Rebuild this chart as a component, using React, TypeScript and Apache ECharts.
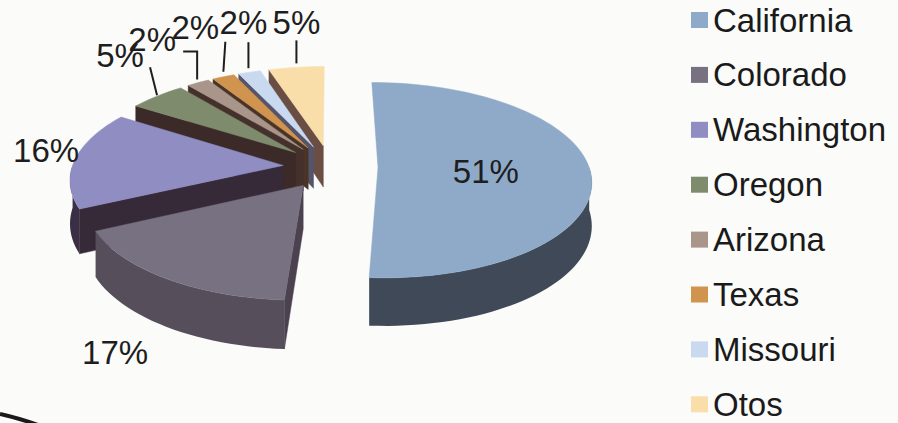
import React, { useEffect, useRef } from 'react';
import * as echarts from 'echarts';

// ---- data ----
const STATES = ['California', 'Colorado', 'Washington', 'Oregon', 'Arizona', 'Texas', 'Missouri', 'Otos'];
const SHARES = [51, 17, 16, 5, 2, 2, 2, 5];

// ---- styles ----
const TOP_COLORS = ['#8eaac8', '#787181', '#8f8dc2', '#7f8b6d', '#a99589', '#d0944e', '#c9daf0', '#f9dea9'];
const WALL_COLORS = ['#3f4957', '#574e5c', '#3a2f44', '#3d2b28', '#48342f', '#4c3628', '#5b5a70', '#6b4f45'];
const FACE_COLORS = ['#353d4a', '#4b414f', '#372a38', '#3b2a27', '#45312c', '#4a3428', '#55546a', '#6a4e44'];

// label layout (relative to the slice's outer mid point / inner point)
const LABEL_LAYOUT: { r: number; dx: number; dy: number; leader: number[][] | null }[] = [
  { r: 0.5, dx: 2, dy: 2, leader: null },
  { r: 1, dx: -51, dy: 74, leader: null },
  { r: 1, dx: -29, dy: -9, leader: null },
  { r: 1, dx: -37, dy: -41, leader: [[0, -1], [-7, -29]] },
  { r: 1, dx: -46, dy: -43, leader: [[-1, -3], [-1, -31], [-15, -31]] },
  { r: 1, dx: -28, dy: -49, leader: [[0, -5], [2, -35]] },
  { r: 1, dx: -6, dy: -50, leader: [[-1, -4], [-1, -30]] },
  { r: 1, dx: 0, dy: -45, leader: [[0, -4], [0, -27]] },
];

const GEO = { cx: 330.5, cy: 166.8, rx: 211, ry: 97.5, p: 0.13, explode: 0.225, depth: 42.5 };
const FONT = '"Liberation Sans", Arial, sans-serif';

const TOTAL = SHARES.reduce((a, b) => a + b, 0);
const STARTS = SHARES.map((_, i) => SHARES.slice(0, i).reduce((a, b) => a + b, 0));

function renderSlice(params: any, api: any) {
  const i = params.seriesIndex;
  const share = api.value(0);
  const start = api.value(1);
  const a0 = (start / TOTAL) * Math.PI * 2;
  const a1 = ((start + share) / TOTAL) * Math.PI * 2;
  const m = (a0 + a1) / 2;
  const ex = GEO.explode * Math.sin(m);
  const ev = -GEO.explode * Math.cos(m);
  const pt = (r: number, th: number, h: number) => {
    const u = ex + r * Math.sin(th);
    const v = ev - r * Math.cos(th);
    const s = 1 + GEO.p * v;
    return [GEO.cx + GEO.rx * u * s, GEO.cy + GEO.ry * v * s + h * GEO.depth * s];
  };
  const arc = (t0: number, t1: number, h: number) => {
    const n = Math.max(4, Math.ceil(((t1 - t0) / (Math.PI * 2)) * 160));
    const out: number[][] = [];
    for (let k = 0; k <= n; k++) out.push(pt(1, t0 + ((t1 - t0) * k) / n, h));
    return out;
  };
  const base = Math.round((ev + 1) * 100) * 10;
  const children: any[] = [];

  // outer wall
  const w0 = Math.max(a0, Math.PI / 2);
  const w1 = Math.min(a1, (Math.PI * 3) / 2);
  if (w1 > w0) {
    const top = arc(w0, w1, 0);
    const bot = arc(w0, w1, 1).reverse();
    children.push({
      type: 'polygon', z2: base + 1,
      shape: { points: top.concat(bot) },
      style: { fill: WALL_COLORS[i] },
    });
  }
  // radial faces
  const face = (a: number) => ({
    type: 'polygon', z2: base + 2,
    shape: { points: [pt(0, 0, 0), pt(1, a, 0), pt(1, a, 1), pt(0, 0, 1)] },
    style: { fill: FACE_COLORS[i], stroke: FACE_COLORS[i], lineWidth: 0.5 },
  });
  if (Math.sin(a0) < -0.001) children.push(face(a0));
  if (Math.sin(a1) > 0.001) children.push(face(a1));
  // top face
  children.push({
    type: 'polygon', z2: base + 3,
    shape: { points: [pt(0, 0, 0)].concat(arc(a0, a1, 0)) },
    style: { fill: TOP_COLORS[i], stroke: TOP_COLORS[i], lineWidth: 0.5 },
  });

  // label
  const lay = LABEL_LAYOUT[i];
  const anchor = pt(lay.r, m, 0);
  if (lay.leader) {
    children.push({
      type: 'polyline', z2: 5000,
      shape: { points: lay.leader.map((d) => [anchor[0] + d[0], anchor[1] + d[1]]) },
      style: { stroke: '#1e1e1e', lineWidth: 2, fill: null },
    });
  }
  children.push({
    type: 'text', z2: 6000,
    x: anchor[0] + lay.dx,
    y: anchor[1] + lay.dy,
    style: {
      text: `${share}%`,
      fill: '#1e1e1e',
      fontSize: 33,
      fontFamily: FONT,
      align: 'center',
      verticalAlign: 'middle',
    },
  });
  return { type: 'group', children };
}

export default function App() {
  const ref = useRef<HTMLDivElement>(null);
  useEffect(() => {
    if (!ref.current) return;
    const chart = echarts.init(ref.current, undefined, { renderer: 'svg' });
    chart.setOption({
      animation: false,
      backgroundColor: '#fbfbfa',
      legend: {
        orient: 'vertical',
        left: 691,
        top: 3.5,
        height: 440,
        padding: 0,
        itemWidth: 17,
        itemHeight: 16,
        itemGap: 21.9,
        icon: 'rect',
        selectedMode: false,
        data: STATES,
        textStyle: { fontSize: 33, fontFamily: FONT, color: '#1a1a1a', padding: [0, 0, 0, 0] },
      },
      graphic: [
        {
          type: 'bezierCurve',
          shape: { x1: 0, y1: 414, cpx1: 18, cpy1: 418, x2: 38, y2: 425 },
          style: { stroke: '#1a1a1a', lineWidth: 4, fill: null },
        },
      ],
      series: STATES.map((name, i) => ({
        type: 'custom',
        name,
        coordinateSystem: 'none',
        itemStyle: { color: TOP_COLORS[i] },
        data: [[SHARES[i], STARTS[i]]],
        renderItem: renderSlice,
      })),
    });
    return () => chart.dispose();
  }, []);
  return <div ref={ref} style={{ position: 'fixed', left: 0, top: 0, width: 898, height: 423 }} />;
}
